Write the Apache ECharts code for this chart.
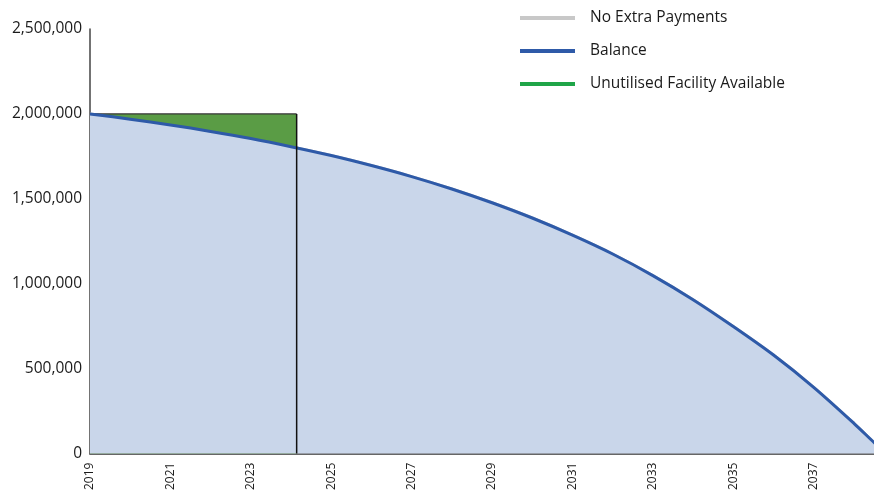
<!DOCTYPE html>
<html>
<head>
<meta charset="utf-8">
<script src="https://cdn.jsdelivr.net/npm/echarts@6/dist/echarts.min.js"></script>
<style>
  html, body { margin: 0; padding: 0; background: #ffffff; }
  #chart { width: 874px; height: 493px; }
</style>
</head>
<body>
<div id="chart"></div>
<script>
// Loan balance by year
const years = [2019, 2020, 2021, 2022, 2023, 2024, 2025, 2026, 2027, 2028, 2029,
               2030, 2031, 2032, 2033, 2034, 2035, 2036, 2037, 2038, 2038.5, 2038.8];
const balance = [2000000, 1969000, 1935000, 1897000, 1855000, 1807000, 1755000, 1696000,
                 1631000, 1558000, 1477000, 1387000, 1286000, 1175000, 1048000, 906000,
                 748000, 580000, 390000, 178000, 65000, 0];
// Repayment path with no extra payments (same schedule)
const noExtra = balance.slice();

// Facility limit and the date up to which it applies
const facilityLimit = 2000000;
const facilityStart = 2019;
const facilityEnd = 2024.14;

// Axis ticks
const yTicks = [0, 500000, 1000000, 1500000, 2000000, 2500000];
const xMin = 2019, xMax = 2038.5;

const seriesNames = ['No Extra Payments', 'Balance', 'Unutilised Facility Available'];

const pair = (xs, ys) => xs.map((x, i) => [x, ys[i]]);

const chart = echarts.init(document.getElementById('chart'), null, { renderer: 'canvas' });

chart.setOption({
  animation: false,
  backgroundColor: '#ffffff',
  textStyle: { fontFamily: 'Open Sans' },
  grid: { left: 90, right: 0, top: 29, bottom: 34, containLabel: false },
  legend: {
    orient: 'vertical',
    left: 515,
    top: 3,
    itemWidth: 55,
    itemHeight: 4,
    itemGap: 13,
    icon: 'rect',
    selectedMode: false,
    data: [
      { name: seriesNames[0], itemStyle: { color: '#c8c8c8' } },
      { name: seriesNames[1], itemStyle: { color: '#2e5aa8' } },
      { name: seriesNames[2], itemStyle: { color: '#1fa548' } }
    ],
    textStyle: {
      fontFamily: 'Open Sans',
      fontSize: 15.5,
      color: '#1a1a1a',
      lineHeight: 20,
      padding: [0, 0, 0, 10]
    }
  },
  xAxis: {
    type: 'value',
    min: xMin,
    max: xMax,
    interval: 1,
    axisLine: { show: true, lineStyle: { color: '#666666', width: 2 } },
    axisTick: { show: false },
    splitLine: { show: false },
    axisLabel: {
      rotate: 90,
      margin: 9,
      fontSize: 12,
      color: '#1a1a1a',
      fontFamily: 'Open Sans',
      showMaxLabel: false,
      formatter: v => (Number.isInteger(v) && v % 2 === 1) ? String(v) : ''
    }
  },
  yAxis: {
    type: 'value',
    min: yTicks[0],
    max: yTicks[yTicks.length - 1],
    interval: yTicks[1] - yTicks[0],
    axisLine: { show: true, lineStyle: { color: '#444444', width: 1.5 } },
    axisTick: { show: false },
    splitLine: { show: false },
    axisLabel: {
      margin: 8,
      fontSize: 15.5,
      color: '#1a1a1a',
      fontFamily: 'Open Sans',
      formatter: v => v.toLocaleString('en-US')
    }
  },
  series: [
    {
      name: seriesNames[0],
      type: 'line',
      data: pair(years, noExtra),
      smooth: 0.3,
      symbol: 'none',
      lineStyle: { color: '#c8c8c8', width: 3 },
      itemStyle: { color: '#c8c8c8' },
      z: 1
    },
    {
      name: seriesNames[2],
      type: 'line',
      data: [[facilityStart, facilityLimit], [facilityEnd, facilityLimit]],
      symbol: 'none',
      lineStyle: { color: '#333333', width: 1.2 },
      itemStyle: { color: '#1fa548' },
      areaStyle: { color: '#5a9c45', opacity: 1 },
      z: 2
    },
    {
      name: seriesNames[1],
      type: 'line',
      data: pair(years, balance),
      smooth: 0.3,
      symbol: 'none',
      lineStyle: { color: '#2e5aa8', width: 3 },
      itemStyle: { color: '#2e5aa8' },
      areaStyle: { color: '#c9d6ea', opacity: 1 },
      z: 3
    },
    {
      name: 'facility-end',
      type: 'line',
      data: [[facilityEnd, 0], [facilityEnd, facilityLimit]],
      symbol: 'none',
      lineStyle: { color: '#111111', width: 1.5 },
      z: 4,
      silent: true
    }
  ]
});
</script>
</body>
</html>
